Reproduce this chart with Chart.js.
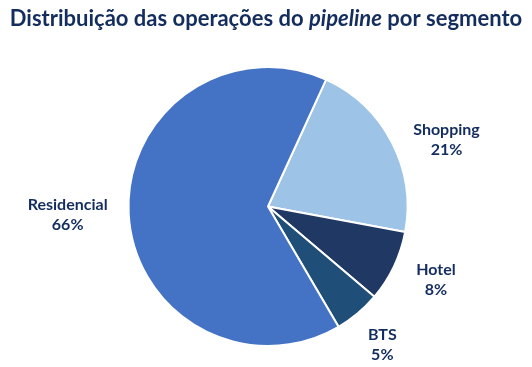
<!DOCTYPE html>
<html>
<head>
<meta charset="utf-8">
<script src="https://cdn.jsdelivr.net/npm/chart.js@4"></script>
<style>
  html, body { margin: 0; padding: 0; background: #fff; }
  #wrap { width: 532px; height: 367px; }
</style>
</head>
<body>
<div id="wrap"><canvas id="graphPipeline"></canvas></div>
<script>
const segmentos = ['Shopping', 'Hotel', 'BTS', 'Residencial'];
const percentuais = [21.2, 8.3, 5.4, 65.6];
const cores = ['#9DC3E6', '#203864', '#1F4E79', '#4472C4'];
// label placement: distance beyond the pie edge and angular nudge (degrees)
const afastamento = [51, 44, 40, 61];
const desvioAngular = [7, -1.7, 0.5, 0.6];

const corTexto = '#132D5E';
const fonte = 'Lato, "Open Sans", sans-serif';

const tituloPlugin = {
  id: 'tituloMisto',
  afterDraw(chart) {
    const ctx = chart.ctx;
    const partes = [
      { t: 'Distribuição das operações do ', it: false },
      { t: 'pipeline', it: true },
      { t: ' por segmento', it: false }
    ];
    const size = 22;
    ctx.save();
    ctx.fillStyle = corTexto;
    ctx.textBaseline = 'middle';
    let total = 0;
    partes.forEach(p => {
      ctx.font = (p.it ? 'italic ' : '') + 'bold ' + size + 'px ' + fonte;
      p.w = ctx.measureText(p.t).width;
      total += p.w;
    });
    let x = (chart.width - total) / 2;
    partes.forEach(p => {
      ctx.font = (p.it ? 'italic ' : '') + 'bold ' + size + 'px ' + fonte;
      ctx.fillText(p.t, x, 19);
      x += p.w;
    });
    ctx.restore();
  }
};

const rotulosPlugin = {
  id: 'rotulos',
  afterDatasetsDraw(chart) {
    const ctx = chart.ctx;
    const meta = chart.getDatasetMeta(0);
    ctx.save();
    ctx.fillStyle = corTexto;
    ctx.font = 'bold 16px ' + fonte;
    ctx.textAlign = 'center';
    ctx.textBaseline = 'middle';
    meta.data.forEach((arc, i) => {
      const p = arc.getProps(['x', 'y', 'startAngle', 'endAngle', 'outerRadius'], true);
      const meio = (p.startAngle + p.endAngle) / 2 + desvioAngular[i] * Math.PI / 180;
      const d = p.outerRadius + afastamento[i];
      const x = p.x + Math.cos(meio) * d;
      const y = p.y + Math.sin(meio) * d;
      ctx.fillText(segmentos[i], x, y - 10);
      ctx.fillText(Math.round(percentuais[i]) + '%', x, y + 10);
    });
    ctx.restore();
  }
};

new Chart(document.getElementById('graphPipeline'), {
  type: 'pie',
  data: {
    labels: segmentos,
    datasets: [{
      data: percentuais,
      backgroundColor: cores,
      borderColor: '#ffffff',
      borderWidth: 2
    }]
  },
  options: {
    responsive: true,
    maintainAspectRatio: false,
    animation: false,
    rotation: 24.6,
    layout: { padding: { top: 66, bottom: 20, left: 4, right: 0 } },
    plugins: {
      legend: { display: false },
      tooltip: { enabled: false }
    }
  },
  plugins: [tituloPlugin, rotulosPlugin]
});
</script>
</body>
</html>
